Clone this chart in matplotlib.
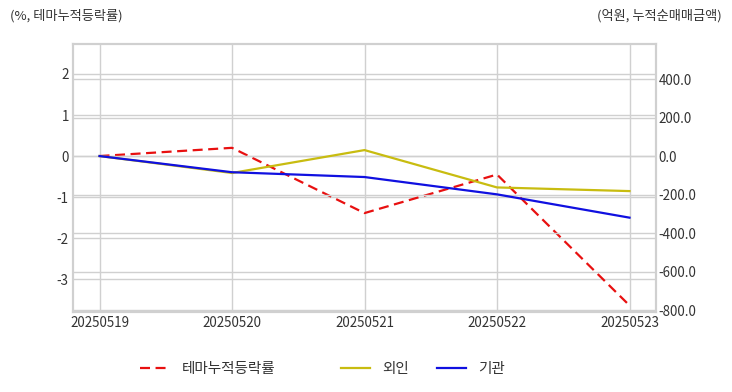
import matplotlib
matplotlib.use("Agg")
import matplotlib.pyplot as plt
from matplotlib.ticker import FormatStrFormatter

plt.rcParams['font.family'] = ['Noto Sans CJK KR', 'DejaVu Sans']
plt.rcParams['axes.unicode_minus'] = False

dates = ['20250519', '20250520', '20250521', '20250522', '20250523']
theme_rate = [0.0, 0.20, -1.39, -0.45, -3.64]
foreign = [0.0, -88.0, 31.0, -163.0, -182.0]
institution = [0.0, -84.0, -109.0, -199.0, -320.0]

left_ticks = [-3, -2, -1, 0, 1, 2]
right_ticks = [-800, -600, -400, -200, 0, 200, 400]

fig = plt.figure(figsize=(7.32, 3.92), dpi=100)
ax = fig.add_axes([73/732, 1-312/392, (656-73)/732, (312-44)/392])
ax2 = ax.twinx()

x = list(range(len(dates)))
grid_c = '#d0d0d0'
txt_c = '#333333'

l1, = ax.plot(x, theme_rate, color='#e81010', lw=1.6, ls=(0, (4.5, 2.5)), label='테마누적등락률')
l2, = ax2.plot(x, foreign, color='#c8bc10', lw=1.6, label='외인')
l3, = ax2.plot(x, institution, color='#1010e0', lw=1.6, label='기관')

ax.set_xlim(-0.2, 4.2)
ax.set_ylim(-3.8, 2.73)
ax2.set_ylim(-810, 582)
ax.set_xticks(x)
ax.set_xticklabels(dates)
ax.set_yticks(left_ticks)
ax2.set_yticks(right_ticks)
ax2.yaxis.set_major_formatter(FormatStrFormatter('%.1f'))

for a in (ax, ax2):
    a.tick_params(length=0, labelsize=9.6, colors=txt_c, pad=3)
    for s in a.spines.values():
        s.set_color(grid_c)
        s.set_linewidth(1.5)
    a.grid(True, color=grid_c, lw=1)
    a.set_axisbelow(True)
ax2.grid(False, axis='x')
ax.grid(True, axis='x', color=grid_c, lw=1)
ax2.tick_params(pad=2)

fig.text(10/732, 1-16/392, '(%, 테마누적등락률)', fontsize=9.5, color=txt_c, va='center', ha='left')
fig.text(722/732, 1-16/392, '(억원, 누적순매매금액)', fontsize=9.5, color=txt_c, va='center', ha='right')

leg_kw = dict(frameon=False, fontsize=10.5, handlelength=2.0, handletextpad=0.85,
              labelcolor=txt_c, loc='center left', borderpad=0, borderaxespad=0)
leg1 = fig.legend(handles=[l1], bbox_to_anchor=(140/732, 1-369/392), **leg_kw)
leg2 = fig.legend(handles=[l2, l3], bbox_to_anchor=(341/732, 1-369/392), ncol=2,
                  columnspacing=1.9, **leg_kw)

fig.savefig('out.png', dpi=100)
